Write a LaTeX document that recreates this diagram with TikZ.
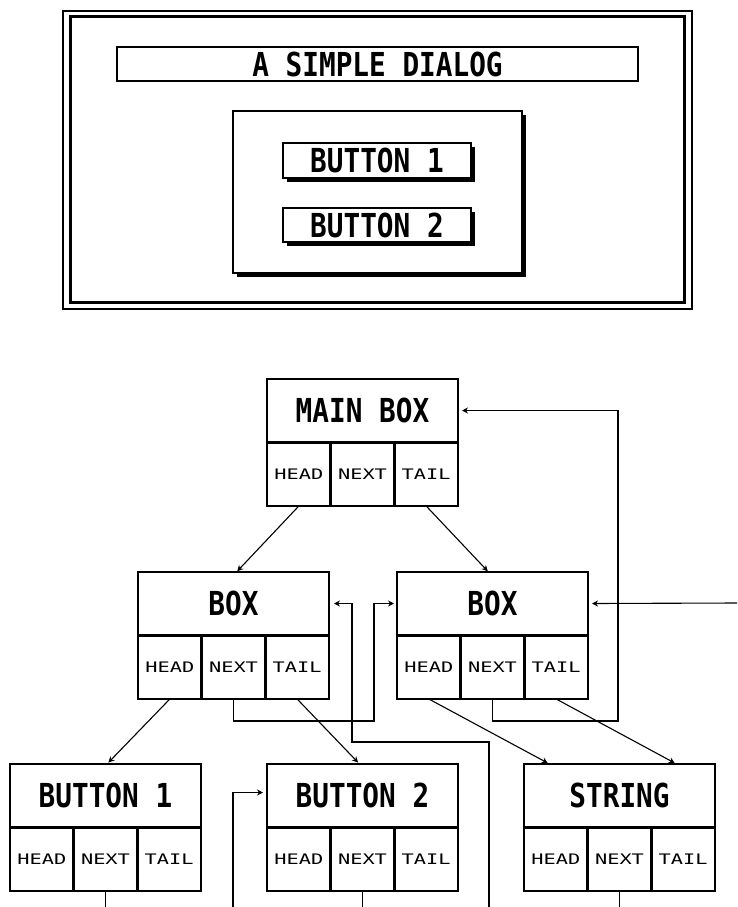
\documentclass[tikz,border=0pt]{standalone}
\usepackage{fontspec}
\usetikzlibrary{arrows.meta,shadows}
\newfontfamily\bigfont{DejaVu Sans Mono}[FakeStretch=0.84]
\newfontfamily\smallfont{DejaVu Sans Mono}[FakeStretch=1.4]
\tikzset{
  big/.style={font={\bigfont\bfseries\fontsize{33}{36}\selectfont}},
  small/.style={font={\smallfont\fontsize{14.5}{16}\selectfont}},
  titlebox/.style={big, minimum width=191pt, minimum height=63pt, inner sep=0pt, outer sep=0pt},
  cellbox/.style={small, minimum width=63.67pt, minimum height=64pt, inner sep=0pt, outer sep=0pt},
  border/.style={line width=1.6pt},
  divider/.style={line width=3pt},
  conn/.style={line width=1.1pt},
  arr/.style={conn, -{Stealth[length=6pt,width=6pt]}},
  thinframe/.style={draw, line width=1.5pt, inner sep=0pt, outer sep=0pt},
  shadowed/.style={thinframe, fill=white, drop shadow={opacity=1, fill=black, shadow xshift=4pt, shadow yshift=-4pt}},
}
\newcommand\recordbox[4]{%
  \node[titlebox] (#1) at ({#2+95.5},{#3+31.5}) {#4};
  \node[cellbox] (#1h) at ({#2+31.83},{#3+95}) {HEAD};
  \node[cellbox] (#1n) at ({#2+95.5},{#3+95}) {NEXT};
  \node[cellbox] (#1t) at ({#2+159.17},{#3+95}) {TAIL};
  \draw[border] (#1.north west) rectangle (#1t.south east);
  \draw[divider] (#1.south west) -- (#1.south east);
  \draw[divider] (#1h.north east) -- (#1h.south east);
  \draw[divider] (#1n.north east) -- (#1n.south east);
}
\begin{document}
\begin{tikzpicture}[x=1pt,y=-1pt]
\useasboundingbox (0,0) rectangle (737,907);
% ---- dialog
\node[thinframe, minimum width=629pt, minimum height=298pt] (frame) at (377.5,160) {};
\draw[line width=3pt] ([xshift=7pt,yshift=-6pt]frame.north west) rectangle ([xshift=-8pt,yshift=7pt]frame.south east);
\node[thinframe, minimum width=521pt, minimum height=34pt, big] (dtitle) at (377.5,64) {A SIMPLE DIALOG};
\node[shadowed, minimum width=289pt, minimum height=162pt] (panel) at (377.5,192) {};
\node[shadowed, minimum width=188pt, minimum height=35pt, big] (btn1) at (377,160.5) {BUTTON 1};
\node[shadowed, minimum width=188pt, minimum height=34pt, big] (btn2) at (377,225) {BUTTON 2};
% ---- records
\recordbox{m}{267}{379}{MAIN BOX}
\recordbox{l}{138}{572}{BOX}
\recordbox{r}{397}{572}{BOX}
\recordbox{bo}{10}{764}{BUTTON 1}
\recordbox{bt}{267}{764}{BUTTON 2}
\recordbox{s}{524}{764}{STRING}
% ---- free ends
\coordinate (e1) at (489,907);
\coordinate (e2) at (233,907);
\coordinate (e3) at (737,603);
% ---- connectors
\draw[arr, shorten >=1pt] (mh.south) -- ([xshift=3pt]l.north);
\draw[arr, shorten >=1pt] (mt.south) -- ([xshift=-4pt]r.north);
\draw[arr] (rn.south) -- ++(0,22) -| ([xshift=160pt]m.east) -- ([xshift=4pt]m.east);
\draw[arr] (ln.south) -- ++(0,22) -| ([xshift=-23pt]r.west) -- ([xshift=-3pt]r.west);
\draw[arr] (e1) -- ++(0,-165) -| ([xshift=23pt]l.east) -- ([xshift=5pt]l.east);
\draw[arr] (e2) |- ([xshift=-4pt,yshift=3pt]bt.west);
\draw[arr] (e3) -- ([xshift=4pt]r.east);
\draw[arr, shorten >=2pt] (lh.south) -- ([xshift=1.5pt]bo.north);
\draw[arr, shorten >=2pt] (lt.south) -- ([xshift=-3pt]bt.north);
\draw[arr, shorten >=2pt] (rh.south) -- ([xshift=-70pt]s.north);
\draw[arr, shorten >=2pt] (rt.south) -- ([xshift=57pt]s.north);
\draw[conn] (bon.south) -- ++(0,16);
\draw[conn] (btn.south) -- ++(0,16);
\draw[conn] (sn.south) -- ++(0,16);
\end{tikzpicture}
\end{document}
